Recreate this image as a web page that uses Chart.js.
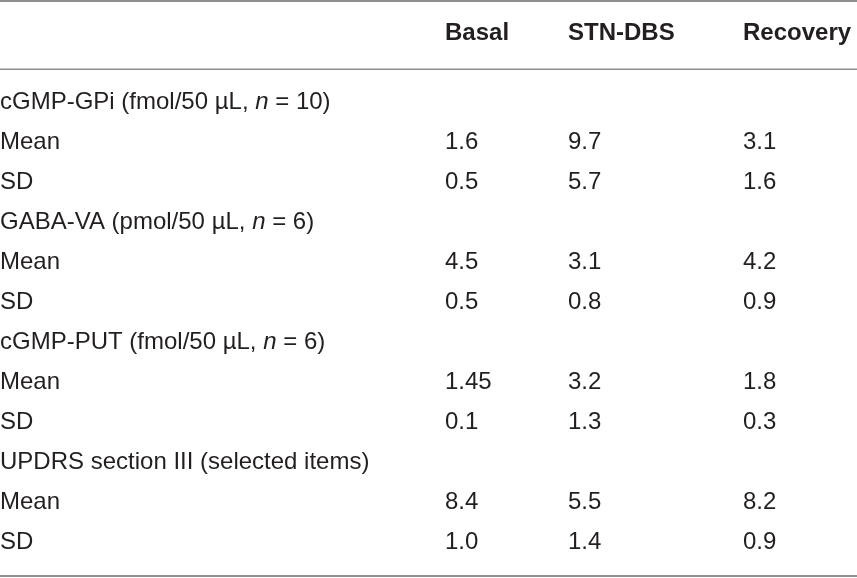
<!DOCTYPE html>
<html>
<head>
<meta charset="utf-8">
<script src="https://cdn.jsdelivr.net/npm/chart.js@4/dist/chart.umd.min.js"></script>
<style>
  html, body { margin: 0; padding: 0; background: #fff; }
  #wrap { width: 857px; height: 578px; }
</style>
</head>
<body>
<div id="wrap"><canvas id="tableChart" width="857" height="578"></canvas></div>
<script>
// table content
const columns = ["Basal", "STN-DBS", "Recovery"];
const rowLabels = [
  "cGMP-GPi (fmol/50 µL, n = 10)",
  "Mean",
  "SD",
  "GABA-VA (pmol/50 µL, n = 6)",
  " Mean",
  " SD",
  "cGMP-PUT (fmol/50 µL, n = 6)",
  "  Mean",
  "  SD",
  "UPDRS section III (selected items)",
  "   Mean",
  "   SD"
];
const basal    = [null, 1.6, 0.5, null, 4.5, 0.5, null, 1.45, 0.1, null, 8.4, 1.0];
const stnDbs   = [null, 9.7, 5.7, null, 3.1, 0.8, null, 3.2,  1.3, null, 5.5, 1.4];
const recovery = [null, 3.1, 1.6, null, 4.2, 0.9, null, 1.8,  0.3, null, 8.2, 0.9];

// layout (pixels on the hidden x scale)
const colX = [445, 568, 743];
const textColor = "#231f20";
const ruleColor = "#8f8f8f";
const fontFamily = "'Liberation Sans', Arial, sans-serif";

function fmt(v) {
  return Number.isInteger(Math.round(v * 100) / 10) ? v.toFixed(1) : v.toFixed(2);
}

function toPoints(values, col) {
  return values.map((v, i) => v === null ? null : { x: colX[col], y: rowLabels[i], v: v }).filter(p => p);
}

const tablePlugin = {
  id: "tableText",
  afterDraw(chart) {
    const ctx = chart.ctx;
    const area = chart.chartArea;
    const yScale = chart.scales.y;
    const xScale = chart.scales.x;
    ctx.save();
    ctx.textBaseline = "alphabetic";
    ctx.textAlign = "left";

    // rules
    ctx.fillStyle = ruleColor;
    ctx.fillRect(0, 0, chart.width, 2);
    ctx.fillRect(0, area.top - 12.5, chart.width, 1.5);
    ctx.fillRect(0, chart.height - 3, chart.width, 2);

    // header
    ctx.fillStyle = textColor;
    ctx.font = "bold 24px " + fontFamily;
    columns.forEach((c, i) => {
      ctx.fillText(c, xScale.getPixelForValue(colX[i]), 40);
    });

    // row labels, with italic n
    rowLabels.forEach((label, i) => {
      const y = yScale.getPixelForValue(i) + 8;
      const parts = label.trim().split(/(\bn\b)(?= =)/);
      let x = xScale.getPixelForValue(0);
      parts.forEach(p => {
        ctx.font = (p === "n" ? "italic " : "") + "24px " + fontFamily;
        ctx.fillText(p, x, y);
        x += ctx.measureText(p).width;
      });
    });

    // cell values from the dataset elements
    ctx.font = "24px " + fontFamily;
    chart.data.datasets.forEach((ds, di) => {
      const meta = chart.getDatasetMeta(di);
      meta.data.forEach((el, j) => {
        ctx.fillText(fmt(ds.data[j].v), el.x, el.y + 8);
      });
    });
    ctx.restore();
  }
};

new Chart(document.getElementById("tableChart").getContext("2d"), {
  type: "scatter",
  data: {
    datasets: [
      { label: columns[0], data: toPoints(basal, 0), pointRadius: 0 },
      { label: columns[1], data: toPoints(stnDbs, 1), pointRadius: 0 },
      { label: columns[2], data: toPoints(recovery, 2), pointRadius: 0 }
    ]
  },
  options: {
    responsive: false,
    animation: false,
    events: [],
    layout: { padding: { top: 81, bottom: 17, left: 0, right: 0 } },
    plugins: {
      legend: { display: false },
      tooltip: { enabled: false }
    },
    scales: {
      x: { type: "linear", min: 0, max: 857, display: false },
      y: { type: "category", labels: rowLabels, offset: true, display: false }
    }
  },
  plugins: [tablePlugin]
});
</script>
</body>
</html>
